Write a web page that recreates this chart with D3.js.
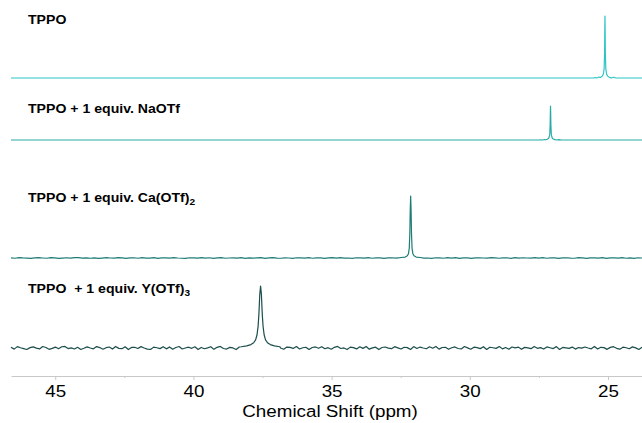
<!DOCTYPE html>
<html>
<head>
<meta charset="utf-8">
<script src="https://cdn.jsdelivr.net/npm/d3@7"></script>
<style>
body { margin: 0; background: #fff; }
text { font-family: Arial, "Liberation Sans", sans-serif; }
</style>
</head>
<body>
<svg></svg>
<script>
var width = 642;
var height = 423;

// data
var labels = ["TPPO", "TPPO + 1 equiv. NaOTf", "TPPO + 1 equiv. Ca(OTf)", "TPPO  + 1 equiv. Y(OTf)"];
var labelSubs = ["", "", "2", "3"];
var shifts = [25.11, 27.08, 32.14, 37.57];   // peak position (ppm)
var tickValues = [45, 40, 35, 30, 25];
var minorTickValues = [42.5, 37.5, 32.5, 27.5];

// peak shapes: [offset from peak (ppm), intensity]
var sharpPeak = [[-0.4,0],[-0.3,0.012],[-0.24,0],[-0.16,0.01],[-0.1,0.03],[-0.06,0.06],[-0.03,0.15],[-0.014,0.4],[-0.006,0.8],[0,1],
                 [0.006,0.8],[0.014,0.4],[0.03,0.15],[0.06,0.06],[0.1,0.03],[0.16,0.008],[0.22,0.015],[0.3,0],[0.36,0.008],[0.4,0]];
var caPeak = [[-0.35,0.008],[-0.2,0.015],[-0.12,0.035],[-0.08,0.07],[-0.05,0.16],[-0.03,0.4],[-0.015,0.78],[0,1],
              [0.015,0.78],[0.03,0.4],[0.05,0.16],[0.08,0.07],[0.12,0.035],[0.2,0.015],[0.35,0.008]];
var yPeak = [[-0.7,0.02],[-0.5,0.035],[-0.35,0.055],[-0.25,0.085],[-0.18,0.13],[-0.13,0.21],[-0.09,0.35],[-0.06,0.55],[-0.03,0.86],[0,1],
             [0.03,0.86],[0.06,0.55],[0.09,0.35],[0.13,0.21],[0.18,0.13],[0.25,0.085],[0.35,0.055],[0.5,0.035],[0.7,0.02]];

// baseline noise
var caNoise = [
 .003,-.004,.006,.001,-.002,-.006,.002,.005,.000,-.004,
 .006,.002,-.005,-.001,.004,-.003,.005,.006,-.002,.001,
 -.004,.003,-.006,-.001,.005,.000,-.003,.006,.002,-.005,
 .001,.004,-.004,.006,-.001,-.003,.005,-.006,.002,.003,
 -.002,.006,.000,-.004,-.006,.004,.001,-.002,.005,-.003,
 .004,-.005,.002,.006,-.004,.000,.003,-.001,.005,-.006,
 .002,-.003,.001,.005,-.005,.003,.006,-.002,-.004,.002,
 .000,-.006,.004,.001,-.002,.005,-.004,.003,.001,-.005,
 .002,.005,-.001,.006,-.003,.000,-.005,.004,.002,-.002,
 .006,-.004,.001,.003,-.006,.002,.004,-.001,.005,-.003,
 .001,-.005,.003,.006,-.002,.000,-.006,.004,.002,-.004,
 .005,-.002,.006,-.005,.001,.003,-.006,.002,.004,.000,
 -.003,.005,.001,-.004,.003,.002,-.006,.006,-.002,.004,
 .000,-.003,.005,-.001,.006,-.004,.002,.003,-.005,.001,
 .004,-.002,-.004,.006,.001,-.005,.003,.002,-.003,.005,
 -.006,.003,.001,-.002,.006,-.004,.002,-.005,.004,.000
];
var yNoise = [
 .012,-.018,.022,.004,-.010,-.024,.006,.019,-.002,-.015,
 .024,.008,-.021,-.006,.015,-.012,.020,.025,-.009,.003,
 -.016,.011,-.024,-.004,.018,.000,-.013,.023,.007,-.020,
 .005,.016,-.017,.025,-.006,-.011,.019,-.025,.009,.012,
 -.008,.022,.001,-.018,-.023,.014,.004,-.010,.021,-.014,
 .017,-.020,.008,.024,-.016,.000,.013,-.005,.019,-.024,
 .009,-.012,.003,.021,-.022,.011,.025,-.008,-.017,.010,
 .001,-.025,.016,.005,-.009,.020,-.018,.012,.003,-.021,
 .007,.019,-.004,.024,-.013,.000,-.020,.015,.009,-.007,
 .023,-.016,.004,.012,-.024,.008,.017,-.003,.021,-.012,
 .005,-.019,.011,.025,-.008,.001,-.023,.014,.006,-.015,
 .020,-.006,.024,-.019,.002,.013,-.025,.008,.016,-.002,
 -.011,.022,.003,-.017,.012,.006,-.024,.023,-.007,.015,
 .000,-.012,.019,-.004,.025,-.018,.008,.011,-.021,.004,
 .017,-.008,-.015,.024,.002,-.020,.013,.005,-.010,.021,
 -.023,.012,.004,-.006,.024,-.014,.007,-.019,.016,.001,
 .014,-.022,.010,.002,-.011,.023,-.005,.006,-.017,.018,
 .004,-.009,.022,-.024,.009,.001,-.006,.015,-.018,.007,
 -.003,.016,.000,-.013,.025,-.016,.011,.006,-.022,.010,
 .021,-.005,-.019,.013,.004,-.012,.018,.002,-.024,.011
];

var peakShapes = [sharpPeak, sharpPeak, caPeak, yPeak];
var noises = [null, null, caNoise, yNoise];

// layout
var colors = ["#2cc6c6", "#27aba6", "#1e7c75", "#1c4e4b"];
var rowBase = [78, 140, 258, 348];
var rowTop = [16, 106, 196, 286];
var labelY = [24, 113, 202, 293];
var axisY = 376;
var stretch = 1.12;

var svg = d3.select("svg")
	.attr("width", width)
	.attr("height", height);

var xScale = d3.scaleLinear()
	.domain([46.6, 23.77])
	.range([11, 642]);

function buildTrace(i) {
	var dom = xScale.domain();
	var peak = peakShapes[i].map(p => [shifts[i] + p[0], p[1]]);
	var lo = d3.min(peak, p => p[0]), hi = d3.max(peak, p => p[0]);
	var pts = [];
	var noise = noises[i];
	if (noise) {
		var step = (dom[0] - dom[1]) / (noise.length - 1);
		noise.forEach((v, k) => {
			var ppm = dom[0] - k * step;
			if (ppm < lo || ppm > hi) pts.push([ppm, v]);
		});
	} else {
		pts.push([dom[0], 0], [dom[1], 0]);
	}
	pts = pts.concat(peak);
	pts.sort((a, b) => b[0] - a[0]);
	return pts;
}

labels.forEach((lab, i) => {
	var yScale = d3.scaleLinear()
		.domain([0, 1])
		.range([rowBase[i], rowTop[i]]);

	var line = d3.line()
		.x(d => xScale(d[0]))
		.y(d => yScale(d[1]));

	svg.append("path")
		.datum(buildTrace(i))
		.attr("d", line)
		.attr("fill", "none")
		.attr("stroke", colors[i])
		.attr("stroke-width", 1.2)
		.attr("stroke-linejoin", "round");

	var t = svg.append("text")
		.attr("transform", `translate(28, ${labelY[i]}) scale(${stretch}, 1)`)
		.style("font-size", "12.6px")
		.style("font-weight", "bold")
		.style("white-space", "pre")
		.attr("fill", "#000");
	t.append("tspan").text(lab);
	if (labelSubs[i]) {
		t.append("tspan")
			.attr("dy", 3)
			.style("font-size", "9px")
			.text(labelSubs[i]);
	}
});

// axes
var axis = svg.append("g")
	.attr("transform", `translate(0, ${axisY})`)
	.call(d3.axisBottom(xScale)
		.tickValues(tickValues)
		.tickSize(4)
		.tickSizeOuter(0)
		.tickFormat(d3.format("d")));
axis.select(".domain").attr("stroke", "#c8c8c8");
axis.selectAll(".tick line").attr("stroke", "#c8c8c8");
axis.selectAll(".tick text")
	.attr("y", 9)
	.attr("fill", "#000")
	.attr("transform", `scale(${stretch}, 1)`)
	.style("font-size", "16.8px")
	.style("font-family", "Arial, 'Liberation Sans', sans-serif");

var minor = svg.append("g")
	.attr("transform", `translate(0, ${axisY})`)
	.call(d3.axisBottom(xScale)
		.tickValues(minorTickValues)
		.tickSize(2)
		.tickSizeOuter(0)
		.tickFormat(""));
minor.select(".domain").remove();
minor.selectAll(".tick line").attr("stroke", "#c8c8c8");

svg.append("text")
	.attr("transform", `translate(330, 417) scale(${stretch}, 1)`)
	.style("text-anchor", "middle")
	.style("font-size", "16.8px")
	.attr("fill", "#000")
	.text("Chemical Shift (ppm)");
</script>
</body>
</html>
